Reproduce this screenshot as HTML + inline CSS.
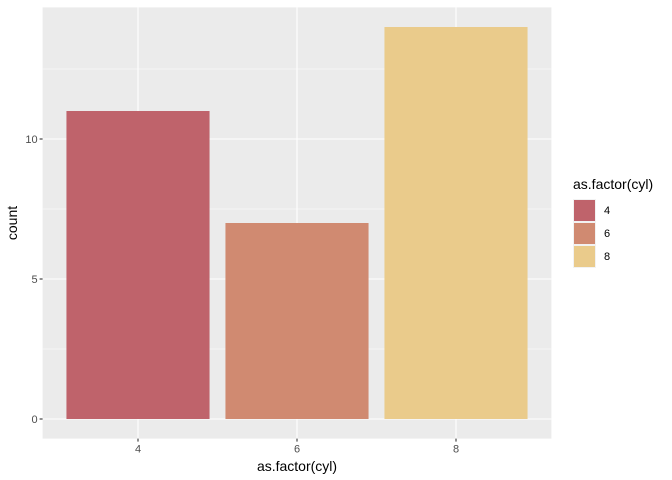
<!DOCTYPE html>
<html><head><meta charset="utf-8"><style>
body{margin:0;background:#fff;}
svg{display:block;font-family:"Liberation Sans",sans-serif;}
</style></head><body>
<svg id="chart" width="672" height="480"></svg>
<script>
const categories = ["4","6","8"];
const counts = [11, 7, 14];
const colors = ["#BF636B","#D08A71","#EACB8B"];
const yTicks = [0, 5, 10];
const yMinor = [2.5, 7.5, 12.5];

const svg = document.getElementById('chart');
const NS = 'http://www.w3.org/2000/svg';
const pL = 42.6, pR = 551.4, pT = 7.4, pB = 438.6;
const yMax = Math.max(...counts);
const yLo = -0.05 * yMax, yHi = yMax * 1.05;
const y = v => pB - (v - yLo) / (yHi - yLo) * (pB - pT);
const xLo = 0.4, xHi = categories.length + 0.6;
const x = i => pL + (i + 1 - xLo) / (xHi - xLo) * (pR - pL);
const bw = 0.9 * (x(1) - x(0));
function mk(tag, attrs, parent) {
  const e = document.createElementNS(NS, tag);
  for (const k in attrs) e.setAttribute(k, attrs[k]);
  (parent || svg).appendChild(e);
  return e;
}
const panel = mk('rect', {x: pL, y: pT, width: pR - pL, height: pB - pT, fill: '#EBEBEB'});


yMinor.forEach(v => {
  const l = mk('line', {x1: pL, x2: pR, y1: y(v), y2: y(v), stroke: '#fff', 'stroke-width': 0.55});
  
  
});
yTicks.forEach(v => {
  const l = mk('line', {x1: pL, x2: pR, y1: y(v), y2: y(v), stroke: '#fff', 'stroke-width': 1.1});
  
  
  const t = mk('line', {x1: pL - 3, x2: pL, y1: y(v), y2: y(v), stroke: '#333', 'stroke-width': 1.1});
  
  
  const tx = mk('text', {x: pL - 5, y: y(v) + 4, 'text-anchor': 'end', 'font-size': 11, fill: '#4D4D4D'});
  tx.textContent = v;
  
  
});
categories.forEach((c, i) => {
  const l = mk('line', {x1: x(i), x2: x(i), y1: pT, y2: pB, stroke: '#fff', 'stroke-width': 1.1});
  
  
});
categories.forEach((c, i) => {
  const b = mk('rect', {x: x(i) - bw / 2, y: y(counts[i]), width: bw, height: y(0) - y(counts[i]), fill: colors[i]});
  
  
  const t = mk('line', {x1: x(i), x2: x(i), y1: pB, y2: pB + 3, stroke: '#333', 'stroke-width': 1.1});
  
  
  const tx = mk('text', {x: x(i), y: pB + 14, 'text-anchor': 'middle', 'font-size': 11, fill: '#4D4D4D'});
  tx.textContent = c;
  
  
});
const xt = mk('text', {x: (pL + pR) / 2, y: 471, 'text-anchor': 'middle', 'font-size': 14, fill: '#000'});
xt.textContent = 'as.factor(cyl)';


const yt = mk('text', {x: 0, y: 0, 'text-anchor': 'middle', 'font-size': 14, fill: '#000', transform: 'translate(17,' + ((pT + pB) / 2) + ') rotate(-90)'});
yt.textContent = 'count';


const lt = mk('text', {x: 573, y: 189, 'font-size': 14, fill: '#000'});
lt.textContent = 'as.factor(cyl)';


categories.forEach((c, i) => {
  const ky = 199 + i * 23;
  const bg = mk('rect', {x: 573, y: ky, width: 23, height: 23, fill: '#F2F2F2'});
  
  
  const k = mk('rect', {x: 574, y: ky + 1, width: 21, height: 21, fill: colors[i]});
  
  
  const t = mk('text', {x: 604, y: ky + 15, 'font-size': 11, fill: '#000'});
  t.textContent = c;
  
  
});
</script>
</body></html>
